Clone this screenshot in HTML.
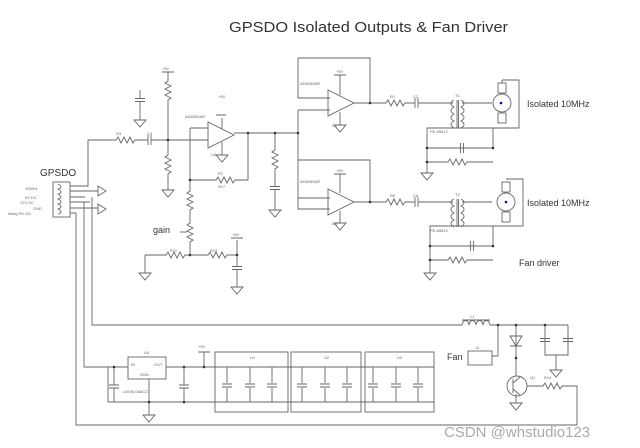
<!DOCTYPE html>
<html><head><meta charset="utf-8"><style>
html,body{margin:0;padding:0;background:#fff;}
svg{display:block;}
text{font-family:"Liberation Sans",sans-serif;fill:#333;}
.s{font-size:4px;fill:#666;}
</style></head><body>
<svg width="640" height="448" viewBox="0 0 640 448" xmlns="http://www.w3.org/2000/svg">
<defs>
<polyline id="rh" points="0,0 3,0 5,-3 8,3 11,-3 14,3 17,-3 20,3 22,0 25,0" fill="none"/>
<polyline id="rv" points="0,0 0,3 -3,5 3,8 -3,11 3,14 -3,17 3,20 0,22 0,25" fill="none"/>
<path id="gnd" d="M0,0V5M-6,5H6L0,12Z" fill="none"/>
<path id="cv" d="M-5,-1.5H5M-5,1.5H5" fill="none"/>
<path id="ch" d="M-1.5,-5V5M1.5,-5V5" fill="none"/>
<path id="oa" d="M0,-13L26,0L0,13Z" fill="none"/>
</defs>
<g stroke="#666" stroke-width="0.9" fill="none">
<!-- J2 connector -->
<rect x="53" y="182" width="17" height="35"/>
<path d="M70,186H88V140H113M138,140H148M151,140H192M70,191H98M70,197H85M70,202H90M70,208H98M70,213H76"/>
<path d="M98,186L106,191L98,196ZM98,204L106,209L98,214Z"/>
<path d="M58,184c4,2 4,4 0,5c4,2 4,4 0,5c4,2 4,4 0,5c4,2 4,4 0,5c4,2 4,4 0,5c4,2 4,4 0,5"/>
<use href="#rh" x="113" y="140"/>
<use href="#ch" x="149.5" y="140"/>
<!-- R2/R4 -->
<path d="M162,72H174M168,72V78M168,103V140M168,140V152M168,177V185"/>
<use href="#rv" x="168" y="78"/>
<use href="#rv" x="168" y="152"/>
<use href="#gnd" x="168" y="185"/>
<path d="M140,90V98M140,102V115"/><use href="#cv" x="140" y="100"/><use href="#gnd" x="140" y="115"/>
<!-- U2 -->
<use href="#oa" x="208" y="135"/>
<path d="M192,140H208M190,128H208M190,128V180M190,180H213M238,180H248V133M234,133H298M222,118V129M216,115H226M222,142V150"/>
<use href="#gnd" x="222" y="150"/>
<use href="#rh" x="213" y="180"/>
<path d="M190,180V188M190,213V220M190,245V255"/>
<use href="#rv" x="190" y="188"/>
<use href="#rv" x="190" y="220"/>
<path d="M180,232H187"/>
<path d="M145,255H163M188,255H205M230,255H237M145,255V268M237,240V266M237,270V282M231,238H243"/>
<use href="#rh" x="163" y="255"/><use href="#rh" x="205" y="255"/>
<use href="#gnd" x="145" y="268"/><use href="#cv" x="237" y="268"/><use href="#gnd" x="237" y="282"/>
<!-- R5 C5 -->
<path d="M275,133V147M275,172V186M275,190V205"/>
<use href="#rv" x="275" y="147"/><use href="#cv" x="275" y="188"/><use href="#gnd" x="275" y="205"/>
<!-- U1 box -->
<path d="M298,58H370V103M298,58V98H330M298,110H330M298,110V209H330M298,160H370V202M298,160V198H330"/>
<use href="#oa" x="328" y="103"/>
<use href="#oa" x="328" y="202"/>
<path d="M354,103H383M340,75V95M334,75H346M340,112V120M354,202H383M340,174V193M334,174H346M340,211V218"/>
<use href="#gnd" x="340" y="120"/><use href="#gnd" x="340" y="218"/>
<!-- output 1 -->
<use href="#rh" x="383" y="103"/>
<path d="M408,103H415M418,103H453M462,103H492"/>
<use href="#ch" x="416.5" y="103"/>
<path d="M454,100c-4,2 -4,5 0,7c-4,2 -4,5 0,7c-4,2 -4,5 0,7c-4,2 -4,5 0,7M461,100c4,2 4,5 0,7c4,2 4,5 0,7c4,2 4,5 0,7c4,2 4,5 0,7M457,100V128M458.5,100V128"/>
<circle cx="502" cy="103" r="9"/>
<rect x="498" y="83" width="8" height="10"/><rect x="498" y="113" width="8" height="10"/>
<path d="M502,80V83M502,80H519V128H427V168M427,148H493V128M427,162H445M470,162H493"/>
<use href="#ch" x="462" y="148"/><use href="#rh" x="445" y="162"/><use href="#gnd" x="427" y="168"/>
<!-- output 2 -->
<use href="#rh" x="383" y="202"/>
<path d="M408,202H415M418,202H453M462,202H492"/>
<use href="#ch" x="416.5" y="202"/>
<path d="M454,199c-4,2 -4,5 0,7c-4,2 -4,5 0,7c-4,2 -4,5 0,7c-4,2 -4,5 0,7M461,199c4,2 4,5 0,7c4,2 4,5 0,7c4,2 4,5 0,7c4,2 4,5 0,7M457,199V227M458.5,199V227"/>
<circle cx="506" cy="202" r="9"/>
<rect x="502" y="182" width="8" height="10"/><rect x="502" y="212" width="8" height="10"/>
<path d="M506,179H523V226H430V268M430,246H493V226M430,260H445M470,260H493"/>
<use href="#ch" x="472" y="246"/><use href="#rh" x="445" y="260"/><use href="#gnd" x="430" y="268"/>
<!-- long lines -->
<path d="M76,213V425H577V386H565M84,202V367H128M92,197V325H462M490,325H568M498,325V356H492M516,325V358M545,325V355H568V325M556,355V365M516,358V376M516,394V398M527,386H540"/>
<path d="M462,325c1,-6 6,-6 7,0c1,-6 6,-6 7,0c1,-6 6,-6 7,0c1,-6 6,-6 7,0M462,320H490"/>
<rect x="468" y="351" width="24" height="14"/>
<path d="M510,336H522L516,346ZM510,346H522"/>
<use href="#cv" x="545" y="340"/><use href="#cv" x="568" y="340"/>
<use href="#gnd" x="556" y="365"/>
<circle cx="517" cy="386" r="10"/>
<path d="M513,379V393M513,383L520,377M513,389L520,395"/>
<use href="#rh" x="540" y="386"/>
<use href="#gnd" x="516" y="398"/>
<!-- regulator & boxes -->
<rect x="128" y="357" width="38" height="22"/>
<path d="M166,367H434M108,402H434M114,367V385M114,388V402M184,367V385M184,388V402M204,367V352M198,352H210M149,379V410"/>
<use href="#cv" x="114" y="386.5"/><use href="#cv" x="184" y="386.5"/>
<use href="#gnd" x="149" y="410"/>
<rect x="215" y="352" width="73" height="60"/>
<rect x="291" y="352" width="70" height="60"/>
<rect x="365" y="352" width="69" height="60"/>
<path d="M108,367V402M227,367V402M250,367V402M272,367V402M302,367V402M325,367V402M347,367V402M373,367V402M396,367V402M418,367V402"/>
<g stroke="#666" fill="#fff"><rect x="222" y="383" width="10" height="5" stroke="none"/><rect x="245" y="383" width="10" height="5" stroke="none"/><rect x="267" y="383" width="10" height="5" stroke="none"/><rect x="297" y="383" width="10" height="5" stroke="none"/><rect x="320" y="383" width="10" height="5" stroke="none"/><rect x="342" y="383" width="10" height="5" stroke="none"/><rect x="368" y="383" width="10" height="5" stroke="none"/><rect x="391" y="383" width="10" height="5" stroke="none"/><rect x="413" y="383" width="10" height="5" stroke="none"/></g>
<use href="#cv" x="227" y="385.5"/><use href="#cv" x="250" y="385.5"/><use href="#cv" x="272" y="385.5"/>
<use href="#cv" x="302" y="385.5"/><use href="#cv" x="325" y="385.5"/><use href="#cv" x="347" y="385.5"/>
<use href="#cv" x="373" y="385.5"/><use href="#cv" x="396" y="385.5"/><use href="#cv" x="418" y="385.5"/>
</g>
<g fill="#333">
<circle cx="168" cy="140" r="1.3"/><circle cx="248" cy="133" r="1.3"/><circle cx="275" cy="133" r="1.3"/><circle cx="298" cy="133" r="1.3"/><circle cx="190" cy="180" r="1.3"/><circle cx="190" cy="255" r="1.3"/><circle cx="237" cy="255" r="1.3"/><circle cx="370" cy="103" r="1.3"/><circle cx="370" cy="202" r="1.3"/><circle cx="427" cy="148" r="1.3"/><circle cx="427" cy="162" r="1.3"/><circle cx="493" cy="148" r="1.3"/><circle cx="430" cy="246" r="1.3"/><circle cx="430" cy="260" r="1.3"/><circle cx="493" cy="246" r="1.3"/><circle cx="498" cy="325" r="1.3"/><circle cx="516" cy="325" r="1.3"/><circle cx="545" cy="325" r="1.3"/><circle cx="516" cy="358" r="1.3"/><circle cx="114" cy="367" r="1.3"/><circle cx="184" cy="367" r="1.3"/><circle cx="204" cy="367" r="1.3"/><circle cx="149" cy="402" r="1.3"/><circle cx="184" cy="402" r="1.3"/><circle cx="501" cy="103" r="1.3" fill="#00c"/><circle cx="506" cy="202" r="1.3" fill="#00c"/>
</g>
<text x="229" y="32" font-size="14.5" textLength="279" lengthAdjust="spacingAndGlyphs">GPSDO Isolated Outputs &amp; Fan Driver</text>
<text x="40" y="176" font-size="10">GPSDO</text>
<text x="153" y="233" font-size="9">gain</text>
<text x="527" y="107" font-size="9">Isolated 10MHz</text>
<text x="527" y="206" font-size="9">Isolated 10MHz</text>
<text x="519" y="266" font-size="9">Fan driver</text>
<text x="447" y="360" font-size="9">Fan</text>
<text class="s" x="25" y="190">10MHz</text><text class="s" x="25" y="199">5V DC</text><text class="s" x="20" y="204">12V DC</text><text class="s" x="33" y="210">GND</text><text class="s" x="8" y="215">Nang Pin D5</text>
<text class="s" x="116" y="135">R3</text><text class="s" x="147" y="135">C3</text><text class="s" x="162" y="70">+5V</text><text class="s" x="185" y="118">AD8055AR</text><text class="s" x="218" y="98">+5V</text><text class="s" x="211" y="156">U2</text><text class="s" x="218" y="175">R7</text><text class="s" x="218" y="188">2K7</text><text class="s" x="170" y="252">R11</text><text class="s" x="210" y="252">R12</text><text class="s" x="232" y="236">+5V</text>
<text class="s" x="300" y="85">AD8055AR</text><text class="s" x="336" y="73">+5V</text><text class="s" x="332" y="127">U1</text><text class="s" x="300" y="183">AD8055AR</text><text class="s" x="336" y="172">+5V</text><text class="s" x="332" y="225">U3</text>
<text class="s" x="390" y="98">R1</text><text class="s" x="413" y="98">C2</text><text class="s" x="455" y="97">T1</text><text class="s" x="430" y="133">PE-65612</text><text class="s" x="390" y="197">R9</text><text class="s" x="413" y="197">C6</text><text class="s" x="455" y="196">T2</text><text class="s" x="430" y="232">PE-65612</text>
<text class="s" x="470" y="318">L1</text><text class="s" x="144" y="354">U4</text><text class="s" x="131" y="366">IN</text><text class="s" x="154" y="366">OUT</text><text class="s" x="140" y="376">GND</text><text class="s" x="123" y="393">LM78L08ACZ</text><text class="s" x="198" y="348">+5V</text>
<text class="s" x="250" y="359">U1</text><text class="s" x="324" y="359">U2</text><text class="s" x="397" y="359">U3</text><text class="s" x="475" y="349">J4</text><text class="s" x="530" y="379">Q1</text><text class="s" x="544" y="379">R14</text>
<text x="444" y="437" font-size="15" fill="#aaa" style="fill:#aaa">CSDN @whstudio123</text>
</svg>
</body></html>
